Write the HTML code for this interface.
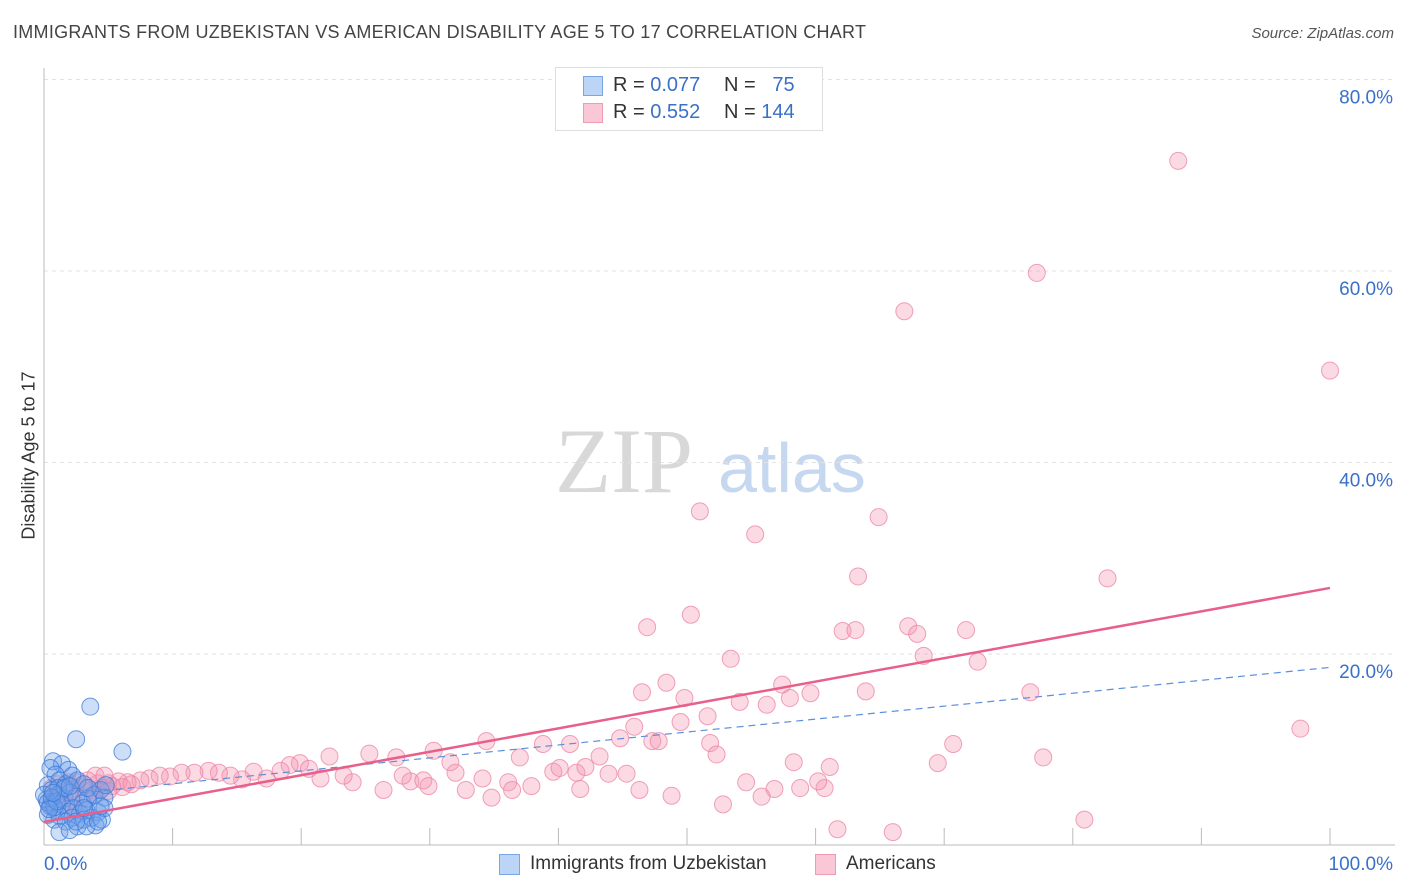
<!DOCTYPE html>
<html><head><meta charset="utf-8"><style>
body{margin:0;background:#fff;font-family:"Liberation Sans",sans-serif;}
#wrap{position:relative;width:1406px;height:892px;overflow:hidden}
.t{position:absolute;white-space:nowrap}
</style></head><body>
<div id="wrap">
<div class="t" style="left:13px;top:22px;font-size:18px;color:#444;letter-spacing:0.28px">IMMIGRANTS FROM UZBEKISTAN VS AMERICAN DISABILITY AGE 5 TO 17 CORRELATION CHART</div>
<div class="t" style="right:12px;top:25px;font-size:15px;color:#555;font-style:italic">Source: ZipAtlas.com</div>
<div class="t" style="left:-63px;top:445px;font-size:18px;color:#333;transform:rotate(-90deg);width:184px;text-align:center">Disability Age 5 to 17</div>
<svg id="svg" width="1406" height="892" style="position:absolute;left:0;top:0">
<text x="555" y="492" font-family="Liberation Serif,serif" font-size="92" fill="#d8d8d8">ZIP</text>
<text x="718" y="492" font-family="Liberation Sans,sans-serif" font-size="70" fill="#c5d8f0">atlas</text>
</svg>
<div style="position:absolute;left:555px;top:67px;width:266px;height:62px;border:1px solid #ddd;background:#fff;font-size:20px;color:#333">
<div style="position:absolute;left:27px;top:8px;width:18px;height:18px;background:#bcd4f5;border:1px solid #7aa6e6"></div>
<div class="t" style="left:57px;top:6px">R = <span style="color:#3a70c8">0.077</span></div>
<div class="t" style="left:168px;top:6px">N = &nbsp;&nbsp;<span style="color:#3a70c8">75</span></div>
<div style="position:absolute;left:27px;top:35px;width:18px;height:18px;background:#f9c7d6;border:1px solid #ee9ab5"></div>
<div class="t" style="left:57px;top:33px">R = <span style="color:#3a70c8">0.552</span></div>
<div class="t" style="left:168px;top:33px">N = <span style="color:#3a70c8">144</span></div>
</div>
<div style="position:absolute;left:499px;top:854px;width:19px;height:19px;background:#bcd4f5;border:1px solid #7aa6e6"></div>
<div class="t" style="left:530px;top:853px;font-size:19px;color:#333">Immigrants from Uzbekistan</div>
<div style="position:absolute;left:815px;top:854px;width:19px;height:19px;background:#f9c7d6;border:1px solid #ee9ab5"></div>
<div class="t" style="left:846px;top:853px;font-size:19px;color:#333">Americans</div>
</div>
<script>
const yTicks=[20,40,60,80];
const xTickLabels=["0.0%","100.0%"];
const blueX=[3.6,2.5,6.1,0.7,1.4,1.9,0.5,0.9,1.2,1.7,2.2,2.6,3.1,0.3,0.6,1.1,1.6,2.0,2.5,3.0,3.4,3.9,4.4,4.7,0.2,0.5,0.9,1.4,1.9,2.3,2.8,3.3,3.7,4.2,0.3,0.8,1.2,1.7,2.2,2.6,3.1,4.0,4.5,4.7,4.8,1.2,2.0,3.3,4.2,0.0,1.1,1.6,2.0,3.4,2.5,3.1,4.4,0.3,0.6,0.8,1.0,0.4,0.7];
const blueY=[14.5,11.1,9.8,8.8,8.5,7.9,8.1,7.4,6.8,6.4,7.3,6.8,6.4,6.3,5.8,5.3,4.9,5.5,5.1,4.4,4.9,5.3,5.8,5.0,4.8,4.1,3.7,4.3,3.5,3.9,3.3,3.7,2.9,3.5,3.2,2.7,3.1,2.5,2.9,2.0,2.7,2.1,2.7,3.9,6.3,1.4,1.6,2.0,2.5,5.3,6.0,6.0,6.2,6.0,2.5,3.9,4.1,4.5,5.0,4.0,4.6,3.8,5.5];
const pinkX=[88.2,77.2,66.9,100,51.0,55.3,64.9,63.3,82.7,46.9,50.3,62.1,63.1,67.2,67.9,71.7,53.4,68.4,72.6,46.5,48.4,49.8,57.4,59.6,63.9,76.7,54.1,56.2,58.0,51.6,49.5,45.9,44.8,47.3,47.8,51.8,52.3,97.7,70.7,69.5,77.7,34.4,38.8,40.9,43.2,37.0,30.3,25.3,27.4,22.2,19.9,54.6,56.8,58.3,61.1,60.7,58.8,60.2,48.8,52.8,55.8,61.7,66.0,80.9,34.8,32.8,26.4,41.4,42.1,43.9,45.3,39.6,37.9,36.1,34.1,32.0,28.5,27.9,29.5,29.9,24.0,23.3,21.5,20.6,19.1,18.4,17.3,16.3,15.4,14.5,13.6,12.8,11.7,10.7,9.8,9.0,8.2,7.5,6.5,5.8,5.0,4.2,3.4,2.6,1.9,1.1,0.6,1.4,2.2,3.0,3.7,4.5,5.3,6.1,6.8,4.0,4.7,1.2,2.2,3.1,4.0,5.0,1.7,2.5,0.9,0.5,31.6,40.1,41.7,46.3,36.4];
const pinkY=[71.5,59.8,55.8,49.6,34.9,32.5,34.3,28.1,27.9,22.8,24.1,22.4,22.5,22.9,22.1,22.5,19.5,19.8,19.2,16.0,17.0,15.4,16.8,15.9,16.1,16.0,15.0,14.7,15.4,13.5,12.9,12.4,11.2,10.9,10.9,10.7,9.5,12.2,10.6,8.6,9.2,10.9,10.6,10.6,9.3,9.2,9.9,9.6,9.2,9.3,8.6,6.6,5.9,8.7,8.2,6.0,6.0,6.7,5.2,4.3,5.1,1.7,1.4,2.7,5.0,5.8,5.8,7.6,8.2,7.5,7.5,7.7,6.2,6.6,7.0,7.6,6.7,7.3,6.8,6.2,6.6,7.3,7.0,8.0,8.4,7.8,7.0,7.7,6.9,7.3,7.6,7.8,7.6,7.6,7.2,7.3,7.0,6.8,6.6,6.7,6.5,6.5,6.8,6.6,6.6,6.4,6.0,5.7,5.9,6.1,5.8,6.0,6.2,6.1,6.4,7.3,7.3,5.3,4.8,5.0,5.3,5.7,4.2,3.7,4.8,4.2,8.7,8.1,5.9,5.8,5.8];
const pinkFit=[2.45,26.9];
const blueFit=[5.1,18.6];
const NS="http://www.w3.org/2000/svg";
const svg=document.getElementById('svg');
const X=v=>44+v*12.86, Y=v=>845.5-v*9.575;
function mk(t,a){const e=document.createElementNS(NS,t);for(const k in a)e.setAttribute(k,a[k]);svg.appendChild(e);return e;}
yTicks.forEach(t=>{
 const g=mk('line',{x1:44,x2:1395,y1:Y(t),y2:Y(t),stroke:'#e2e2e2','stroke-dasharray':'4,4'});
 
 
 const l=mk('text',{x:1393,y:Y(t)+24,'text-anchor':'end','font-size':19,fill:'#3a70c8','font-family':'Liberation Sans,sans-serif'});
 l.textContent=t.toFixed(1)+'%';
 
 
});
const ax=mk('line',{x1:44,x2:44,y1:68,y2:845,stroke:'#bbb'});


const bx=mk('line',{x1:44,x2:1395,y1:845,y2:845,stroke:'#bbb'});


for(let i=1;i<=10;i++){const tk=mk('line',{x1:X(i*10),x2:X(i*10),y1:828,y2:845,stroke:'#bbb'});
 
 }
xTickLabels.forEach((s,i)=>{const l=mk('text',{x:i?1393:44,y:870,'text-anchor':i?'end':'start','font-size':19,fill:'#3a70c8','font-family':'Liberation Sans,sans-serif'});
 l.textContent=s;
 
 });
pinkX.forEach((x,i)=>{const c=mk('circle',{cx:X(x),cy:Y(pinkY[i]),r:8.5,fill:'rgba(244,150,178,0.35)',stroke:'rgba(236,130,165,0.75)','stroke-width':1});
 
 });
blueX.forEach((x,i)=>{const c=mk('circle',{cx:X(x),cy:Y(blueY[i]),r:8.5,fill:'rgba(110,160,235,0.35)',stroke:'rgba(60,120,215,0.75)','stroke-width':1});
 
 });
const bl=mk('line',{x1:X(0),y1:Y(blueFit[0]),x2:X(100),y2:Y(blueFit[1]),stroke:'#5b8fd9','stroke-width':1.2,'stroke-dasharray':'7,5'});


const pl=mk('line',{x1:X(0),y1:Y(pinkFit[0]),x2:X(100),y2:Y(pinkFit[1]),stroke:'#e8608a','stroke-width':2.5});


</script>
</body></html>
